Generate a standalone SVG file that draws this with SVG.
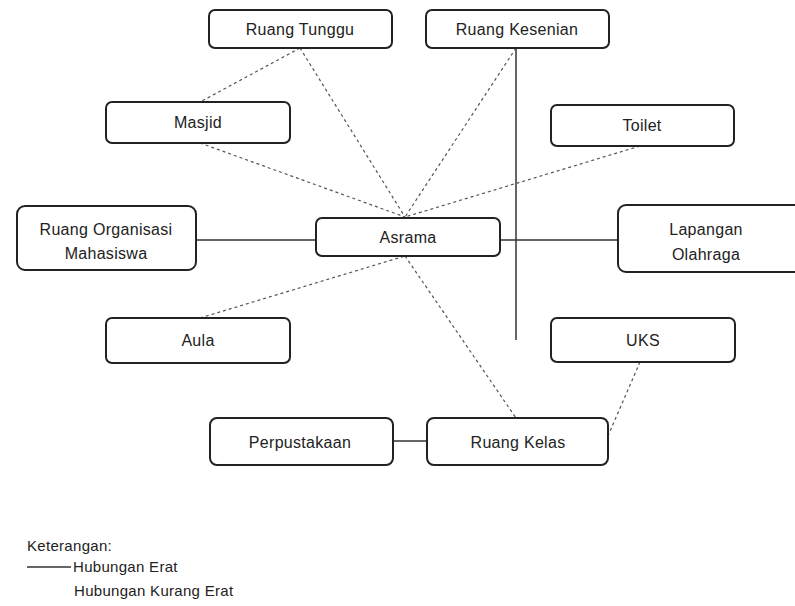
<svg xmlns="http://www.w3.org/2000/svg" width="795" height="606" viewBox="0 0 795 606">
<style>
.box{fill:#fff;stroke:#222;stroke-width:2}
.t{font-family:"Liberation Sans",Arial,sans-serif;font-size:16px;letter-spacing:0.3px;fill:#222;text-anchor:middle;dominant-baseline:central}
.lg{font-family:"Liberation Sans",Arial,sans-serif;font-size:15px;letter-spacing:0.3px;fill:#222}
.solid{stroke:#333;stroke-width:1.5;fill:none}
.dash{stroke:#555;stroke-width:1.2;stroke-dasharray:3 3;fill:none}
</style>
<rect width="795" height="606" fill="#fff"/>
<g id="connectors">
<line class="solid" x1="196" y1="240" x2="316" y2="240"/>
<line class="solid" x1="500" y1="240" x2="618" y2="240"/>
<line class="solid" x1="393" y1="441" x2="427" y2="441"/>
<line class="solid" x1="516" y1="48" x2="516" y2="340"/>
<line class="dash" x1="300" y1="48" x2="200" y2="102"/>
<line class="dash" x1="300" y1="48" x2="405" y2="217"/>
<line class="dash" x1="516" y1="48" x2="405" y2="217"/>
<line class="dash" x1="200" y1="143" x2="405" y2="217"/>
<line class="dash" x1="640" y1="146" x2="405" y2="217"/>
<line class="dash" x1="200" y1="318" x2="405" y2="256"/>
<line class="dash" x1="405" y1="256" x2="516" y2="418"/>
<line class="dash" x1="640" y1="362" x2="608" y2="436"/>
</g>
<g id="n-ruang-tunggu"><rect class="box" x="209" y="10" width="183" height="38" rx="6"/><text class="t" x="300" y="29">Ruang Tunggu</text></g>
<g id="n-ruang-kesenian"><rect class="box" x="426" y="10" width="183" height="38" rx="6"/><text class="t" x="517" y="29">Ruang Kesenian</text></g>
<g id="n-masjid"><rect class="box" x="106" y="102" width="184" height="41" rx="6"/><text class="t" x="198" y="122">Masjid</text></g>
<g id="n-toilet"><rect class="box" x="551" y="105" width="183" height="41" rx="6"/><text class="t" x="642" y="125">Toilet</text></g>
<g id="n-organisasi"><rect class="box" x="17" y="206" width="179" height="64" rx="8"/><text class="t" x="106" y="229">Ruang Organisasi</text><text class="t" x="106" y="253">Mahasiswa</text></g>
<g id="n-asrama"><rect class="box" x="316" y="218" width="184" height="38" rx="6"/><text class="t" x="408" y="237">Asrama</text></g>
<g id="n-lapangan"><rect class="box" x="618" y="205" width="185" height="67" rx="8"/><text class="t" x="706" y="229">Lapangan</text><text class="t" x="706" y="254">Olahraga</text></g>
<g id="n-aula"><rect class="box" x="106" y="318" width="184" height="45" rx="6"/><text class="t" x="198" y="340">Aula</text></g>
<g id="n-uks"><rect class="box" x="551" y="318" width="184" height="44" rx="6"/><text class="t" x="643" y="340">UKS</text></g>
<g id="n-perpustakaan"><rect class="box" x="210" y="418" width="183" height="47" rx="7"/><text class="t" x="300" y="442">Perpustakaan</text></g>
<g id="n-ruang-kelas"><rect class="box" x="427" y="418" width="181" height="47" rx="7"/><text class="t" x="518" y="442">Ruang Kelas</text></g>
<g id="legend">
<text class="lg" x="27" y="551">Keterangan:</text>
<line class="solid" x1="27" y1="567" x2="71" y2="567"/>
<text class="lg" x="73" y="572">Hubungan Erat</text>
<text class="lg" x="74" y="596">Hubungan Kurang Erat</text>
</g>
</svg>
